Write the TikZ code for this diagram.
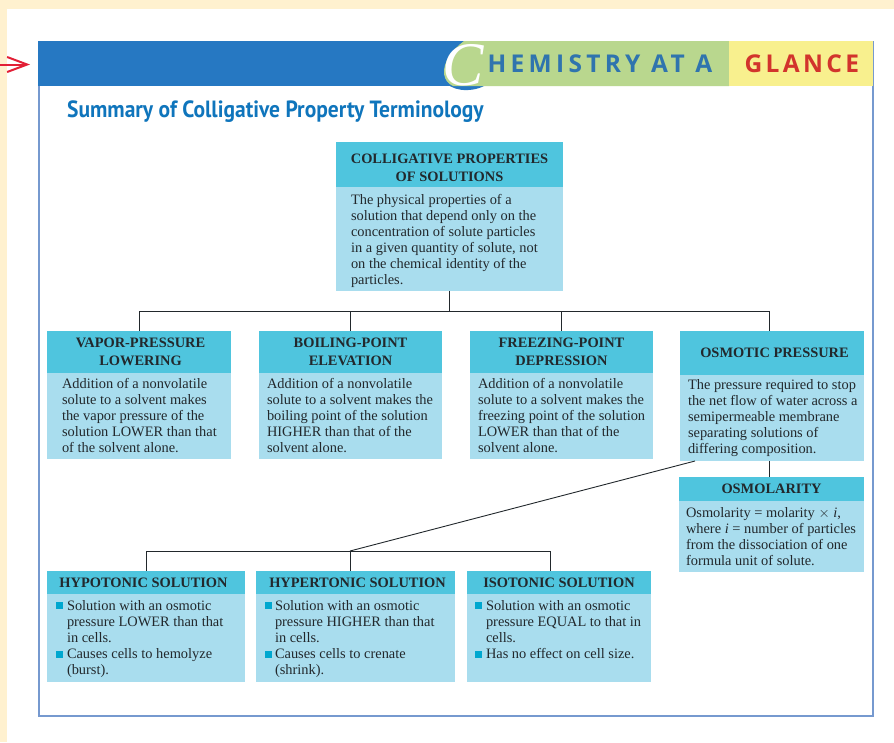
\documentclass[tikz,border=0pt]{standalone}
\usepackage{graphicx}
\usepackage{fontspec}
\setmainfont{Liberation Serif}
\newfontfamily\titlefont{PT Sans}
\newfontfamily\chemfont[LetterSpace=17.5]{Open Sans}
\newfontfamily\glancefont[LetterSpace=13.5]{Open Sans}
\usetikzlibrary{arrows.meta}
\definecolor{cream}{HTML}{FFF1CF}
\definecolor{framec}{HTML}{7699CF}
\definecolor{bandblue}{HTML}{2678C2}
\definecolor{bandgreen}{HTML}{B9D78E}
\definecolor{bandyellow}{HTML}{F8F08E}
\definecolor{headc}{HTML}{4FC5DE}
\definecolor{bodyc}{HTML}{A9DDEE}
\definecolor{bulletc}{HTML}{00A7CF}
\definecolor{inkc}{HTML}{22282C}
\definecolor{titlec}{HTML}{0F75BC}
\definecolor{redc}{HTML}{E21F36}
\definecolor{glancec}{HTML}{D2342C}
\definecolor{chemc}{HTML}{2F74AE}
\tikzset{
 x=1pt,y=-1pt,
 boxbase/.style={anchor=north west,inner sep=0pt,outer sep=0pt,text=inkc},
 headbox/.style={boxbase,fill=headc,font=\fontsize{14.4}{18}\selectfont\bfseries,align=center},
 bodybox/.style={boxbase,fill=bodyc},
 bodytext/.style={anchor=north west,inner sep=0pt,outer sep=0pt,text=inkc,align=left,font=\fontsize{14.4}{16}\selectfont},
 wire/.style={draw=inkc,line width=0.9pt},
 bul/.style={anchor=north west,inner sep=0pt,outer sep=0pt,fill=bulletc,minimum width=7.3pt,minimum height=7.3pt},
}
\begin{document}
\begin{tikzpicture}
\useasboundingbox (0,0) rectangle (894,742);
% page
\fill[cream] (0,0) rectangle (894,742);
\fill[white] (7,9) rectangle (894,742);
% frame
\draw[framec,line width=2pt] (38.5,42) rectangle (873,715.5);
% band
\fill[bandblue] (38,41) rectangle (470,86);
\fill[bandblue] (444,80) .. controls (450,91) and (470,93) .. (484,86) -- cycle;
\fill[bandgreen] (464,41) .. controls (452,50) and (443,62) .. (444,74) .. controls (445,80) and (448,84) .. (453,86) -- (729,86) -- (729,41) -- cycle;
\fill[bandyellow] (729,41) rectangle (873,86);
\node[anchor=center,inner sep=0pt,text=white] (bigc) at (463,65) {\fontsize{62}{62}\selectfont\itshape C};
\node[anchor=west,inner sep=0pt,text=chemc] (chem) at (487.5,64) {\fontsize{24.5}{26}\selectfont\chemfont\bfseries HEMISTRY AT A};
\node[anchor=west,inner sep=0pt,text=glancec] (glance) at (744.5,64) {\fontsize{24.5}{26}\selectfont\glancefont\bfseries GLANCE};
% arrow
\coordinate (arrowstart) at (0,64.5);
\coordinate (arrowend) at (30,64.5);
\draw[redc,line width=2pt,-{Straight Barb[length=20pt,width=15pt,line width=2pt]}] (arrowstart) -- (arrowend);
% title
\node[anchor=base west,inner sep=0pt,text=titlec] (title) at (67,117.5) {\scalebox{0.915}[1]{\fontsize{23.5}{26}\selectfont\titlefont\bfseries Summary of Colligative Property Terminology}};

% top box
\node[bodybox,minimum width=227pt,minimum height=104pt] (topb) at (336,187) {};
\node[headbox,minimum width=227pt,minimum height=45pt] (toph) at (336,142) {\rule{0pt}{15.5pt}COLLIGATIVE PROPERTIES\\OF SOLUTIONS};
\node[bodytext] (topt) at (351,194) {The physical properties of a\\solution that depend only on the\\concentration of solute particles\\in a given quantity of solute, not\\on the chemical identity of the\\particles.};

% row 2
\node[bodybox,minimum width=184pt,minimum height=86pt] (vpb) at (47,373) {};
\node[headbox,minimum width=184pt,minimum height=42pt] (vph) at (47,331) {\kern3pt VAPOR-PRESSURE\\\kern3pt LOWERING};
\node[bodytext] (vpt) at (62,378) {Addition of a nonvolatile\\solute to a solvent makes\\the vapor pressure of the\\solution LOWER than that\\of the solvent alone.};

\node[bodybox,minimum width=183pt,minimum height=86pt] (bpb) at (259,373) {};
\node[headbox,minimum width=183pt,minimum height=42pt] (bph) at (259,331) {BOILING-POINT\\ELEVATION};
\node[bodytext] (bpt) at (267,378) {Addition of a nonvolatile\\solute to a solvent makes the\\boiling point of the solution\\HIGHER than that of the\\solvent alone.};

\node[bodybox,minimum width=183pt,minimum height=86pt] (fpb) at (470,373) {};
\node[headbox,minimum width=183pt,minimum height=42pt] (fph) at (470,331) {FREEZING-POINT\\DEPRESSION};
\node[bodytext] (fpt) at (478,378) {Addition of a nonvolatile\\solute to a solvent makes the\\freezing point of the solution\\LOWER than that of the\\solvent alone.};

\node[bodybox,minimum width=184pt,minimum height=88pt] (opb) at (680,373) {};
\node[headbox,minimum width=184pt,minimum height=44pt] (oph) at (680,331) {\kern5pt OSMOTIC PRESSURE};
\node[bodytext] (opt) at (688,380) {The pressure required to stop\\the net flow of water across a\\semipermeable membrane\\separating solutions of\\differing composition.};

% osmolarity
\node[bodybox,minimum width=185pt,minimum height=71pt] (omb) at (679,501) {};
\node[headbox,minimum width=185pt,minimum height=24pt] (omh) at (679,477) {OSMOLARITY};
\node[bodytext] (omt) at (686,507) {Osmolarity = molarity $\times$ \textit{i},\\where \textit{i} = number of particles\\from the dissociation of one\\formula unit of solute.};

% bottom row
\node[bodybox,minimum width=198pt,minimum height=88pt] (hob) at (47,594) {};
\node[headbox,minimum width=198pt,minimum height=23pt] (hoh) at (47,571) {\kern-5pt HYPOTONIC SOLUTION};
\node[bul] (hob1) at (56,602) {};
\node[bul] (hob2) at (56,650.5) {};
\node[bodytext] (hot) at (67,600) {Solution with an osmotic\\pressure LOWER than that\\in cells.\\Causes cells to hemolyze\\(burst).};

\node[bodybox,minimum width=199pt,minimum height=88pt] (heb) at (256,594) {};
\node[headbox,minimum width=199pt,minimum height=23pt] (heh) at (256,571) {\kern4pt HYPERTONIC SOLUTION};
\node[bul] (heb1) at (265,602) {};
\node[bul] (heb2) at (265,650.5) {};
\node[bodytext] (het) at (275,600) {Solution with an osmotic\\pressure HIGHER than that\\in cells.\\Causes cells to crenate\\(shrink).};

\node[bodybox,minimum width=184pt,minimum height=88pt] (isb) at (467,594) {};
\node[headbox,minimum width=184pt,minimum height=23pt] (ish) at (467,571) {ISOTONIC SOLUTION};
\node[bul] (isb1) at (475,602) {};
\node[bul] (isb2) at (475,650.5) {};
\node[bodytext] (ist) at (486,600) {Solution with an osmotic\\pressure EQUAL to that in\\cells.\\Has no effect on cell size.};

% connectors
\coordinate (j1) at (449,311);
\coordinate (j1a) at (139,311);
\coordinate (j1b) at (350,311);
\coordinate (j1c) at (561,311);
\coordinate (j1d) at (769,311);
\coordinate (j2) at (350,551);
\coordinate (j2a) at (146,551);
\coordinate (j2c) at (550,551);
\coordinate (diagstart) at (695,461);
\draw[wire] (topb.south -| j1) -- (j1);
\draw[wire] (j1a) -- (j1d);
\draw[wire] (j1a) -- (vph.north -| j1a);
\draw[wire] (j1b) -- (bph.north -| j1b);
\draw[wire] (j1c) -- (fph.north -| j1c);
\draw[wire] (j1d) -- (oph.north -| j1d);
\draw[wire] (opb.south -| j1d) -- (omh.north -| j1d);
\draw[wire] (diagstart) -- (j2);
\draw[wire] (j2a) -- (j2c);
\draw[wire] (j2a) -- (hoh.north -| j2a);
\draw[wire] (j2) -- (heh.north -| j2);
\draw[wire] (j2c) -- (ish.north -| j2c);
\end{tikzpicture}
\end{document}
